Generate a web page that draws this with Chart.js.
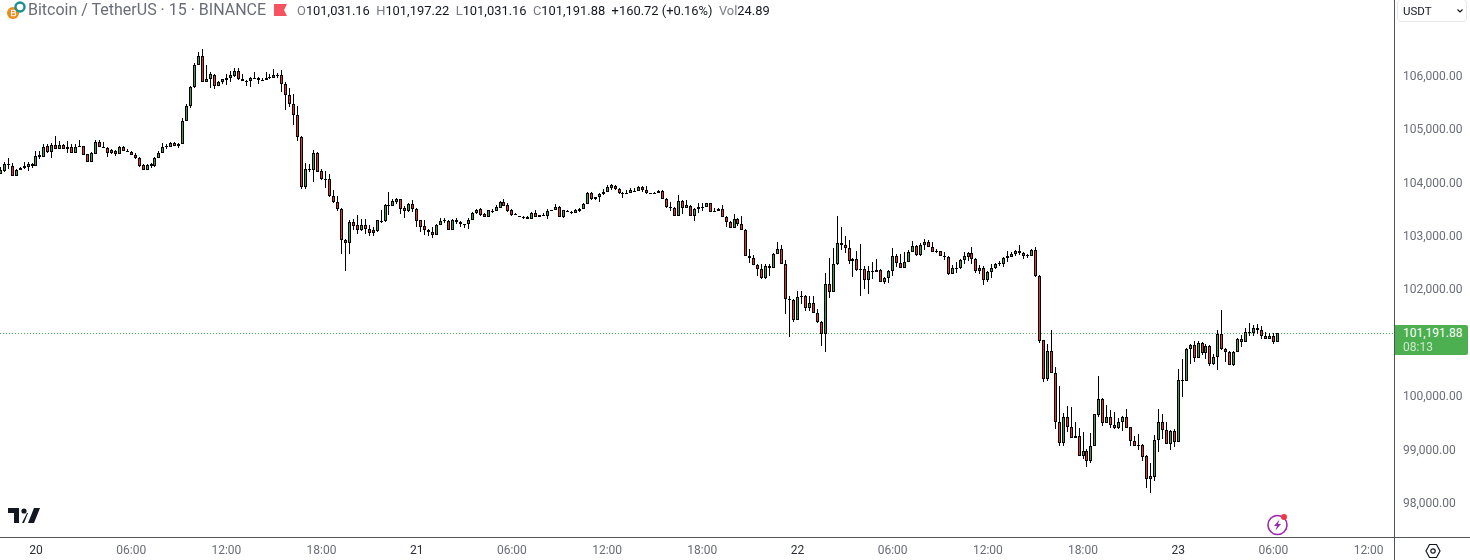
<!DOCTYPE html>
<html>
<head>
<meta charset="utf-8">
<title>BTCUSDT 15</title>
<script src="https://cdn.jsdelivr.net/npm/chart.js@4"></script>
<style>
  html, body { margin: 0; padding: 0; background: #fff; overflow: hidden; }
  #wrap { position: relative; width: 1470px; height: 560px; font-family: Roboto, sans-serif; }
  #wrap > * { position: absolute; }
  .vline { left: 1394px; top: 0; width: 1px; height: 560px; background: #50535e; }
  .hline { left: 0; top: 537px; width: 1470px; height: 1px; background: #50535e; }
  .title { left: 28px; top: 0; font-size: 16px; line-height: 20px; color: #6a6d78; white-space: pre; }
  .ohlc { left: 297px; top: 2px; font-size: 12.9px; line-height: 17px; color: #131722; white-space: pre; }
  .ohlc i { font-style: normal; color: #787b86; }
  .unit { left: 1397px; top: -1px; width: 70px; height: 23px; border: 1px solid #e6e7ea; border-radius: 4px; box-sizing: border-box; font-size: 11.5px; line-height: 22px; color: #131722; padding-left: 5px; }
  .last { left: 1395px; top: 325px; width: 73px; height: 30px; background: #4caf50; border-radius: 0 2px 2px 0; color: #fff; font-size: 12px; line-height: 14px; padding: 1px 0 0 8px; box-sizing: border-box; }
  .last span { display: block; opacity: .72; }
</style>
</head>
<body>
<div id="wrap">
  <canvas id="priceChart"></canvas>
  <div class="vline"></div>
  <div class="hline"></div>

  <svg style="left:6px;top:1px" width="20" height="19" viewBox="0 0 20 19">
    <circle cx="7" cy="12" r="6" fill="#f08a1d"/>
    <circle cx="14" cy="6" r="4.5" fill="none" stroke="#16918f" stroke-width="2.4"/>
    <path d="M5.5 9v6M5.5 9.3h2.6c1.6 0 1.6 2.5 0 2.5H5.5m0 0h3c1.6 0 1.6 3 0 3h-3" fill="none" stroke="#fff" stroke-width="1.1"/>
  </svg>
  <div class="title">Bitcoin / TetherUS · 15 · BINANCE</div>
  <svg style="left:274px;top:4px" width="13" height="12" viewBox="0 0 13 12"><path d="M0 0h13l-3 6 3 6H0z" fill="#f7525f"/></svg>
  <div class="ohlc"><i>O</i>101,031.16  <i>H</i>101,197.22  <i>L</i>101,031.16  <i>C</i>101,191.88  +160.72 (+0.16%)  <i>Vol</i>24.89</div>

  <div class="unit">USDT</div>
  <svg style="left:1456px;top:8px" width="8" height="6" viewBox="0 0 8 6"><path d="M1.5 1.5 4 4l2.5-2.5" fill="none" stroke="#131722" stroke-width="1.2"/></svg>
  <div class="last">101,191.88<span>08:13</span></div>

  <svg style="left:8px;top:507px" width="32" height="17" viewBox="0 0 32 17">
    <path d="M0 1h11v15H6V6H0zM20 16 26 1h6l-6 15z" fill="#131722"/><circle cx="16" cy="4" r="2.6" fill="#131722"/>
    <path d="M14 16l5-10h1l-4 10z" fill="#131722"/>
  </svg>
  <svg style="left:1266px;top:512px" width="24" height="24" viewBox="0 0 24 24">
    <circle cx="11.5" cy="13" r="9.5" fill="none" stroke="#9c27b0" stroke-width="1.6"/>
    <path d="M13.5 7.5 8 14h3l-1.5 4.5L15 12h-3z" fill="#9c27b0"/>
    <circle cx="18" cy="5" r="3" fill="#f23645"/>
  </svg>
  <svg style="left:1425px;top:543px" width="16" height="16" viewBox="0 0 16 16">
    <path d="M4.5 1.5h7L15 8l-3.5 6.5h-7L1 8z" fill="none" stroke="#131722" stroke-width="1.2"/>
    <circle cx="8" cy="8" r="2.2" fill="none" stroke="#131722" stroke-width="1.2"/>
  </svg>
</div>

<script>
const opens = [
  104177,104234,104352,104334,104146,104258,104290,104315,104327,104327,
  104496,104502,104695,104589,104727,104652,104727,104652,104689,104577,
  104695,104695,104546,104408,104558,104783,104689,104671,104571,104614,
  104552,104689,104614,104589,104539,104483,104340,104258,104327,104327,
  104477,104571,104695,104689,104764,104695,104739,105176,105451,105801,
  106225,106394,105900,105957,106038,105826,105900,105932,105975,106007,
  106113,105963,105925,105919,105982,105982,105944,105938,105988,105982,
  106032,106038,105869,105663,105495,105289,104877,103940,104277,104258,
  104577,104234,104090,104090,103772,103659,103528,102947,102885,103285,
  103216,103122,103216,103154,103122,103110,103297,103297,103590,103578,
  103647,103703,103541,103484,103609,103528,103310,103197,103135,103097,
  103035,103222,103310,103303,103129,103322,103278,103235,103241,103316,
  103447,103516,103422,103372,103484,103484,103541,103659,103590,103497,
  103422,103385,103378,103378,103335,103453,103372,103416,103391,103491,
  103509,103566,103372,103491,103466,103447,103478,103522,103615,103828,
  103703,103740,103797,103840,103915,103959,103903,103828,103828,103822,
  103865,103859,103940,103884,103822,103822,103822,103865,103715,103541,
  103547,103397,103678,103541,103584,103391,103522,103566,103559,103628,
  103491,103484,103528,103378,103285,103166,103341,103247,103135,102648,
  102610,102479,102404,102229,102460,102417,102679,102779,102498,101836,
  101824,101443,101899,101899,101668,101768,101580,101412,101187,102123,
  101967,102486,102891,102854,102798,102548,102592,102392,102392,102198,
  102361,102348,102386,102155,102230,102361,102648,102517,102417,102529,
  102717,102835,102660,102848,102910,102816,102735,102735,102642,102629,
  102311,102423,102417,102567,102623,102704,102592,102361,102423,102192,
  102342,102417,102504,102498,102610,102629,102685,102698,102704,102654,
  102648,102760,102273,101062,100344,100869,100456,99539,99146,99632,
  99445,99233,99277,98896,98996,98808,99089,99657,99970,99514,
  99632,99483,99420,99539,99632,99433,99183,99108,99108,98890,
  98465,98503,99202,99539,99389,99121,99370,99158,100325,100307,
  100900,100981,100738,101018,100831,100962,100619,100756,101187,100906,
  100850,100606,100850,101093,101037,101224,101199,101299,101262,101149,
  101093,101149,101031.16
];
const highs = [
  104309,104402,104483,104383,104277,104309,104408,104396,104383,104608,
  104608,104745,104745,104758,104895,104795,104733,104795,104733,104733,
  104820,104708,104558,104583,104808,104808,104783,104683,104646,104633,
  104702,104702,104646,104608,104571,104496,104358,104365,104383,104490,
  104608,104758,104733,104777,104777,104758,105220,105482,105819,106256,
  106462,106525,106213,106088,106044,105913,105963,106044,106106,106169,
  106169,106057,105944,105988,106081,105988,105982,106094,106044,106150,
  106069,106119,105894,105794,105682,105457,104883,104390,104371,104621,
  104583,104271,104227,104184,103884,103759,103541,102966,103322,103341,
  103416,103341,103341,103228,103185,103322,103497,103622,103834,103715,
  103734,103715,103572,103634,103684,103541,103322,103310,103141,103185,
  103235,103347,103347,103310,103335,103347,103291,103247,103347,103466,
  103522,103534,103447,103509,103528,103597,103672,103709,103628,103528,
  103447,103397,103397,103391,103472,103497,103416,103447,103528,103509,
  103609,103572,103509,103509,103478,103516,103547,103628,103834,103834,
  103753,103822,103896,103978,103984,103978,103915,103840,103884,103921,
  103921,103946,103946,103946,103822,103846,103871,103871,103722,103647,
  103559,103778,103684,103684,103590,103534,103634,103640,103640,103640,
  103547,103547,103590,103385,103297,103422,103360,103385,103141,102767,
  102654,102498,102498,102498,102485,102691,102898,102841,102573,101899,
  101830,101992,101980,101905,101899,101886,101655,101418,102317,102598,
  102785,103397,103178,103010,102947,102610,102729,102873,102448,102448,
  102523,102592,102392,102248,102380,102785,102673,102685,102717,102748,
  102916,102848,102885,102954,102947,102898,102767,102742,102717,102635,
  102473,102536,102579,102717,102717,102804,102598,102467,102448,102361,
  102498,102511,102542,102623,102742,102710,102760,102841,102717,102685,
  102767,102804,102280,101075,101000,101249,100556,100200,99701,99826,
  99813,99526,99427,99345,99033,99327,99689,100388,99982,99845,
  99751,99726,99614,99639,99782,99439,99264,99302,99115,98921,
  98765,99283,99770,99676,99526,99376,99401,100531,100706,100912,
  100993,101043,101043,101031,100987,100968,100800,101249,101624,100912,
  100856,100856,101112,101156,101299,101393,101343,101374,101324,101218,
  101206,101206,101197.22
];
const lows = [
  104177,104215,104277,104140,104134,104246,104277,104234,104290,104321,
  104458,104496,104571,104483,104646,104646,104646,104571,104571,104571,
  104683,104527,104402,104402,104546,104677,104683,104496,104558,104521,
  104546,104608,104583,104533,104458,104315,104246,104246,104296,104315,
  104471,104564,104652,104683,104695,104664,104733,105170,105420,105782,
  106219,105894,105894,105788,105769,105819,105869,105838,105907,105994,
  105944,105919,105819,105807,105969,105869,105919,105932,105957,105969,
  105969,105707,105370,105432,105089,104795,103896,103896,104209,104028,
  104209,104071,103915,103747,103634,103484,102685,102361,102685,103122,
  103047,103104,103060,103010,103010,103097,103260,103285,103403,103572,
  103622,103434,103347,103472,103466,103185,103097,103029,103010,102972,
  103029,103216,103266,103122,103122,103241,103185,103172,103141,103310,
  103422,103397,103366,103366,103447,103478,103534,103572,103472,103391,
  103409,103372,103335,103328,103328,103366,103366,103385,103328,103484,
  103497,103366,103360,103466,103422,103441,103466,103516,103609,103684,
  103697,103653,103790,103834,103871,103884,103797,103728,103815,103815,
  103853,103853,103840,103809,103809,103803,103815,103709,103547,103484,
  103385,103391,103434,103534,103385,103297,103453,103484,103553,103459,
  103466,103478,103366,103185,103160,103160,103197,103129,102635,102504,
  102467,102261,102211,102211,102261,102411,102673,102492,101549,101125,
  101399,101437,101736,101605,101605,101568,101387,100950,100844,101849,
  101961,102467,102748,102698,102485,102248,102361,101893,102017,101930,
  102217,102342,102148,102123,102136,102261,102436,102411,102411,102523,
  102710,102642,102648,102748,102804,102710,102704,102635,102567,102286,
  102304,102323,102404,102485,102548,102498,102323,102304,102098,102155,
  102230,102404,102454,102436,102536,102623,102648,102660,102585,102604,
  102642,102242,101012,100275,100300,100450,99401,99083,99083,99345,
  99227,99227,98890,98840,98690,98771,99083,99626,99458,99508,
  99420,99408,99401,99358,99420,99083,99083,99002,98796,98296,
  98203,98427,98971,99214,99115,99008,99064,99152,100001,100300,
  100619,100656,100731,100787,100712,100581,100600,100506,100887,100650,
  100600,100581,100844,100937,101031,101143,101143,101187,101087,101087,
  101087,100993,101031.16
];
const closes = [
  104258,104358,104358,104146,104258,104296,104321,104358,104358,104521,
  104527,104689,104589,104727,104652,104727,104652,104689,104577,104689,
  104695,104539,104408,104564,104783,104683,104689,104571,104621,104546,
  104689,104614,104589,104539,104471,104327,104252,104352,104365,104483,
  104577,104677,104708,104764,104702,104739,105176,105457,105813,106225,
  106394,105900,105963,106044,105826,105907,105950,105982,106025,106113,
  105963,105925,105925,105982,105982,105938,105944,105982,105988,106038,
  106032,105869,105663,105488,105282,104877,103940,104277,104277,104577,
  104221,104077,104090,103765,103653,103516,102947,102885,103285,103204,
  103122,103216,103141,103072,103072,103310,103297,103590,103590,103665,
  103703,103522,103484,103609,103516,103297,103185,103122,103085,103035,
  103228,103291,103310,103129,103322,103278,103241,103235,103322,103453,
  103509,103409,103372,103497,103484,103553,103659,103578,103484,103409,
  103422,103385,103378,103335,103453,103372,103416,103416,103491,103509,
  103566,103372,103497,103491,103466,103497,103528,103622,103828,103709,
  103747,103809,103846,103928,103965,103896,103822,103828,103828,103871,
  103865,103940,103871,103822,103809,103822,103865,103715,103559,103566,
  103391,103678,103541,103590,103391,103528,103566,103566,103628,103466,
  103491,103528,103372,103278,103166,103341,103247,103135,102642,102604,
  102479,102398,102229,102460,102417,102685,102779,102498,101836,101836,
  101443,101880,101899,101668,101768,101574,101405,101187,102123,101967,
  102498,102891,102848,102792,102548,102592,102373,102392,102198,102367,
  102361,102386,102155,102236,102367,102648,102511,102417,102536,102723,
  102835,102660,102854,102910,102810,102717,102735,102642,102642,102304,
  102423,102423,102573,102635,102704,102585,102361,102423,102192,102348,
  102423,102498,102504,102610,102635,102685,102742,102742,102642,102654,
  102760,102261,101050,100344,100869,100456,99533,99146,99632,99439,
  99233,99277,98896,98996,98808,99089,99676,99970,99514,99632,
  99476,99420,99539,99632,99427,99183,99083,99108,98877,98465,
  98515,99202,99539,99389,99121,99370,99158,100325,100325,100906,
  100981,100738,101018,100831,100962,100619,100756,101187,100906,100850,
  100606,100850,101093,101031,101224,101224,101299,101249,101149,101093,
  101149,101037,101191.88
];

const timeTickIndex = [9, 33, 57, 81, 105, 129, 153, 177, 201, 225, 249, 273, 297, 321, 345];
const timeTickLabels = ["20", "06:00", "12:00", "18:00", "21", "06:00", "12:00", "18:00", "22", "06:00", "12:00", "18:00", "23", "06:00", "12:00"];
const priceTicks = [98000, 99000, 100000, 101000, 102000, 103000, 104000, 105000, 106000];
const lastClose = closes[closes.length - 1];

const UP = "#3b9c4b";
const DOWN = "#e5352b";
const xMin = -0.076;
const xMax = 351.41;

// snap candles to whole pixels so they stay crisp like the original
const snapCandles = {
  id: "snapCandles",
  afterDatasetsUpdate(chart) {
    chart.data.datasets.forEach((ds, d) => {
      if (ds.type !== "bar") return;
      chart.getDatasetMeta(d).data.forEach(el => {
        el.x = Math.floor(el.x) + 0.5;
        el.y = Math.round(el.y);
        el.base = Math.round(el.base);
        if (el.base === el.y) el.base = el.y + 1;
      });
    });
  }
};

new Chart(document.getElementById("priceChart"), {
  data: {
    datasets: [
      {
        type: "bar",
        order: 1,
        data: opens.map((o, i) => ({ x: i, y: [o, closes[i]] })),
        backgroundColor: opens.map((o, i) => closes[i] >= o ? UP : DOWN),
        borderColor: "#000",
        borderWidth: 1,
        borderSkipped: false,
        inflateAmount: 0,
        barThickness: 3,
        grouped: false
      },
      {
        type: "bar",
        order: 2,
        data: lows.map((l, i) => ({ x: i, y: [l, highs[i]] })),
        backgroundColor: "#000",
        borderWidth: 0,
        inflateAmount: 0,
        barThickness: 1,
        grouped: false
      },
      {
        type: "line",
        order: 3,
        data: [{ x: xMin, y: lastClose }, { x: xMax, y: lastClose }],
        borderColor: "#4caf50",
        borderWidth: 1,
        borderDash: [1, 2],
        pointRadius: 0
      }
    ]
  },
  options: {
    responsive: true,
    maintainAspectRatio: false,
    animation: false,
    layout: { padding: 0 },
    plugins: { legend: { display: false }, tooltip: { enabled: false } },
    scales: {
      x: {
        type: "linear",
        offset: false,
        min: xMin,
        max: xMax,
        grid: { display: false, offset: false, drawTicks: false },
        border: { display: false },
        afterFit(scale) {
          scale.height = 23;
          scale.paddingLeft = 0;
          scale.paddingRight = 0;
        },
        afterBuildTicks(scale) { scale.ticks = timeTickIndex.map(v => ({ value: v })); },
        ticks: {
          autoSkip: false,
          maxRotation: 0,
          padding: 7,
          font: { family: "Roboto", size: 12 },
          color: ctx => timeTickLabels[ctx.index].length === 2 ? "#2a2e39" : "#6a6d78",
          callback: (v, i) => timeTickLabels[i]
        }
      },
      y: {
        position: "right",
        min: 97380,
        max: 107438.4,
        grid: { display: false, drawTicks: false },
        border: { display: false },
        afterFit(scale) {
          scale.width = 76;
          scale.paddingTop = 0;
          scale.paddingBottom = 0;
        },
        afterBuildTicks(scale) { scale.ticks = priceTicks.map(v => ({ value: v })); },
        ticks: {
          padding: 9,
          font: { family: "Roboto", size: 12 },
          color: "#6a6d78",
          callback: v => v.toLocaleString("en-US", { minimumFractionDigits: 2 })
        }
      }
    }
  },
  plugins: [snapCandles]
});
</script>
</body>
</html>
